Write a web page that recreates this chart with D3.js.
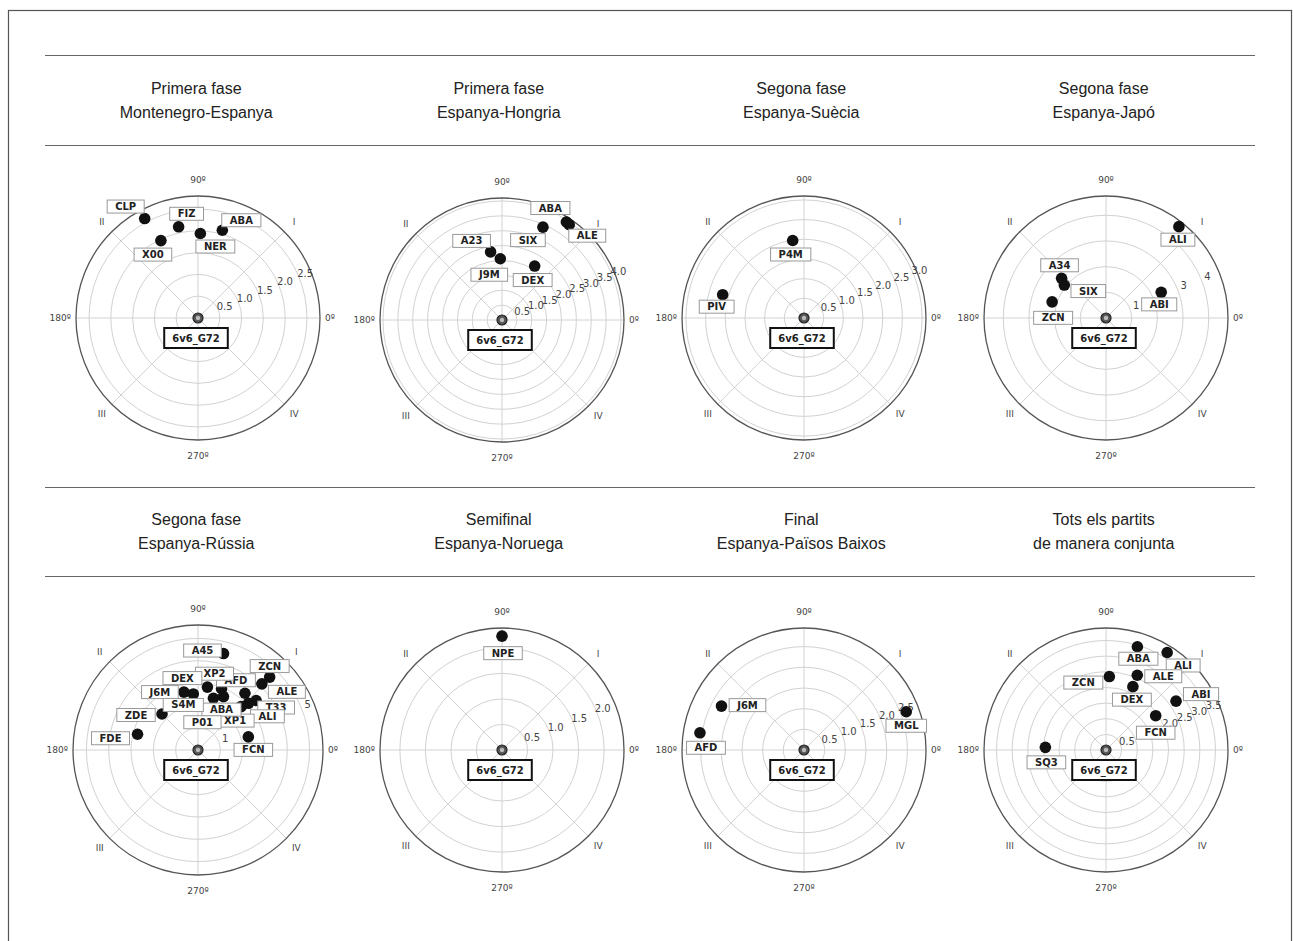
<!DOCTYPE html>
<html>
<head>
<meta charset="utf-8">
<script src="https://cdn.jsdelivr.net/npm/d3@7"></script>
<style>
  body { margin: 0; background: #fff; }
  svg { display: block; }
</style>
</head>
<body>
<svg id="chart" width="1293" height="941"></svg>
<script>
// ---- data: distance (r) and angle (degrees) per player ----
const titles = [
  ["Primera fase", "Montenegro-Espanya"],
  ["Primera fase", "Espanya-Hongria"],
  ["Segona fase", "Espanya-Suècia"],
  ["Segona fase", "Espanya-Japó"],
  ["Segona fase", "Espanya-Rússia"],
  ["Semifinal", "Espanya-Noruega"],
  ["Final", "Espanya-Països Baixos"],
  ["Tots els partits", "de manera conjunta"]
];

const m1Names = ["CLP", "FIZ", "X00", "NER", "ABA"];
const m1Dist  = [2.59, 2.14, 1.97, 1.94, 2.09];
const m1Angle = [118.2, 102, 115.6, 88.4, 74.5];

const m2Names = ["ABA", "ALE", "SIX", "A23", "J9M", "DEX"];
const m2Dist  = [3.94, 3.92, 3.41, 2.32, 2.06, 2.12];
const m2Angle = [56.7, 54.8, 66.2, 99.5, 91.6, 58.8];

const m3Names = ["P4M", "PIV"];
const m3Dist  = [1.99, 2.15];
const m3Angle = [98.3, 164];

const m4Names = ["ALI", "A34", "SIX", "ZCN", "ABI"];
const m4Dist  = [4.55, 2.32, 2.07, 2.19, 2.37];
const m4Angle = [51.4, 138.2, 141.7, 163.3, 24.9];

const m5Names = ["A45", "ZCN", "ALE", "T33", "ALI", "XP1", "AFD", "XP2", "DEX", "ABA", "P01", "J6M", "S4M", "ZDE", "FDE", "FCN"];
const m5Dist  = [4.47, 4.58, 4.12, 3.42, 3.08, 2.74, 3.3, 2.94, 2.85, 2.65, 2.42, 2.67, 2.52, 2.28, 2.8, 2.33];
const m5Angle = [75.2, 45.5, 46, 40.4, 42.8, 45.2, 50.4, 69, 81.5, 64.5, 73.4, 103.7, 94.8, 135, 165.4, 14.6];

const m6Names = ["NPE"];
const m6Dist  = [2.23];
const m6Angle = [90];

const m7Names = ["J6M", "AFD", "MGL"];
const m7Dist  = [2.26, 2.55, 2.64];
const m7Angle = [152, 170.6, 20.5];

const m8Names = ["ABA", "ALI", "ZCN", "ALE", "DEX", "ABI", "FCN", "SQ3"];
const m8Dist  = [3.45, 3.68, 2.35, 2.59, 2.2, 2.73, 1.93, 1.94];
const m8Angle = [73.1, 57.9, 87.4, 67.3, 67, 34.9, 34.6, 177.5];

// radial axis limits, grid rings and the ring labels that stay visible
const radialMax = [2.8, 4.1, 3.1, 4.75, 5.6, 2.39, 2.95, 3.9];
const radialTicks = [
  [0.5, 1, 1.5, 2, 2.5],
  [0.5, 1, 1.5, 2, 2.5, 3, 3.5, 4],
  [0.5, 1, 1.5, 2, 2.5, 3],
  [1, 2, 3, 4],
  [1, 2, 3, 4, 5],
  [0.5, 1, 1.5, 2],
  [0.5, 1, 1.5, 2, 2.5],
  [0.5, 1, 1.5, 2, 2.5, 3, 3.5]
];
const radialLabels = [
  [0.5, 1, 1.5, 2, 2.5],
  [0.5, 1, 1.5, 2, 2.5, 3, 3.5, 4],
  [0.5, 1, 1.5, 2, 2.5, 3],
  [1, 3, 4],
  [1, 5],
  [0.5, 1, 1.5, 2],
  [0.5, 1, 1.5, 2, 2.5],
  [0.5, 2, 2.5, 3, 3.5]
];
const tickFormats = [".1f", ".1f", ".1f", "d", "d", ".1f", ".1f", ".1f"];

const angleTicks  = [0, 45, 90, 135, 180, 225, 270, 315];
const angleLabels = ["0º", "I", "90º", "II", "180º", "III", "270º", "IV"];
const centerName = "6v6_G72";

// ---- layout (not data): where each annotation box sits relative to its dot ----
const m1Offsets = [[-19, -12], [8, -13], [-8, 14], [15, 13], [19, -10]];
const m2Offsets = [[-16, -14], [18, 11], [-15, 13], [-19, -11], [-11, 16], [-2, 14]];
const m3Offsets = [[-2, 14], [-6, 12]];
const m4Offsets = [[-1, 13], [-2, -13], [24, 6], [1, 16], [-2, 12]];
const m5Offsets = [[-21, -3], [0, -11], [25, 8], [20, 7], [19, 13], [-6, 14], [-9, -13], [-7, -15],
                   [-25, -9], [-2, 13], [-11, 24], [-24, 0], [-10, 11], [-26, 1], [-27, 4], [5, 13]];
const m6Offsets = [[1, 17]];
const m7Offsets = [[26, -1], [6, 15], [0, 14]];
const m8Offsets = [[1, 12], [16, 13], [-26, 6], [26, 1], [-1, 13], [25, -7], [0, 17], [1, 15]];

const centersX = [198, 502, 804, 1106];
const rowY = [318, 750];
const radius = [122, 122, 122, 122, 125, 122, 122, 122];

const svg = d3.select("#chart");
const fontPlain = "'Liberation Sans', Arial, Helvetica, sans-serif";
const fontPlot = "'DejaVu Sans', sans-serif";

// outer frame (its bottom edge lies below the picture)
svg.append("rect")
  .attr("x", 8.5).attr("y", 10.5)
  .attr("width", 1283).attr("height", 960)
  .attr("fill", "none")
  .attr("stroke", "#555")
  .attr("stroke-width", 1.2);

// column positions for titles
const colX = d3.scaleBand().domain(d3.range(4)).range([45, 1255]);

// horizontal rules
[55, 145, 487, 576].forEach(y => {
  svg.append("line")
    .attr("x1", 45).attr("x2", 1255)
    .attr("y1", y + 0.5).attr("y2", y + 0.5)
    .attr("stroke", "#666")
    .attr("stroke-width", 1);
});

// titles
titles.forEach((t, i) => {
  const row = Math.floor(i / 4), col = i % 4;
  const cx = colX(col) + colX.bandwidth() / 2;
  const base = row === 0 ? 94 : 525;
  t.forEach((line, k) => {
    svg.append("text")
      .attr("x", cx)
      .attr("y", base + k * 24)
      .attr("text-anchor", "middle")
      .style("font-family", fontPlain)
      .style("font-size", "16px")
      .style("fill", "#222")
      .text(line);
  });
});

const panels = [
  [m1Names, m1Dist, m1Angle, m1Offsets],
  [m2Names, m2Dist, m2Angle, m2Offsets],
  [m3Names, m3Dist, m3Angle, m3Offsets],
  [m4Names, m4Dist, m4Angle, m4Offsets],
  [m5Names, m5Dist, m5Angle, m5Offsets],
  [m6Names, m6Dist, m6Angle, m6Offsets],
  [m7Names, m7Dist, m7Angle, m7Offsets],
  [m8Names, m8Dist, m8Angle, m8Offsets]
].map((p, i) => ({
  points: p[0].map((n, k) => ({ name: n, r: p[1][k], theta: p[2][k], off: p[3][k] })),
  rmax: radialMax[i],
  ticks: radialTicks[i],
  labels: radialLabels[i],
  fmt: d3.format(tickFormats[i]),
  R: radius[i],
  cx: centersX[i % 4],
  cy: rowY[Math.floor(i / 4)] + (i === 1 ? 2 : 0)
}));

// angle scale: degrees counter-clockwise from east -> d3.pointRadial angle
const angle = d3.scaleLinear().domain([0, 360]).range([Math.PI / 2, Math.PI / 2 - 2 * Math.PI]);

function boxLabel(g, x, y, txt, opts) {
  const lg = g.append("g").attr("transform", `translate(${x},${y})`);
  const rect = lg.append("rect");
  const t = lg.append("text")
    .attr("text-anchor", "middle")
    .attr("dominant-baseline", "central")
    .style("font-family", fontPlot)
    .style("font-size", "10px")
    .style("font-weight", "bold")
    .style("fill", "#222")
    .text(txt);
  const w = t.node().getComputedTextLength() + opts.pad * 2;
  rect.attr("x", -w / 2).attr("y", -opts.h / 2)
    .attr("width", w).attr("height", opts.h)
    .attr("fill", "#fff")
    .attr("stroke", opts.stroke)
    .attr("stroke-width", opts.sw);
}

function drawPanel(p) {
  const g = svg.append("g").attr("transform", `translate(${p.cx},${p.cy})`);
  const r = d3.scaleLinear().domain([0, p.rmax]).range([0, p.R]);

  // grid rings
  g.selectAll("circle.ring")
    .data(p.ticks)
    .join("circle")
    .attr("class", "ring")
    .attr("r", d => r(d))
    .attr("fill", "none")
    .attr("stroke", "#d2d2d2")
    .attr("stroke-width", 1);

  // spokes
  g.selectAll("line.spoke")
    .data(angleTicks)
    .join("line")
    .attr("class", "spoke")
    .attr("x1", 0).attr("y1", 0)
    .attr("x2", d => d3.pointRadial(angle(d), p.R)[0])
    .attr("y2", d => d3.pointRadial(angle(d), p.R)[1])
    .attr("stroke", "#d2d2d2")
    .attr("stroke-width", 1);

  // outer spine
  g.append("circle")
    .attr("r", p.R)
    .attr("fill", "none")
    .attr("stroke", "#555")
    .attr("stroke-width", 1.3);

  // angle labels
  const pad = d => d % 90 === 0 ? (d % 180 === 0 ? 5 : 16) : 14;
  g.selectAll("text.alab")
    .data(angleTicks)
    .join("text")
    .attr("class", "alab")
    .attr("x", d => d3.pointRadial(angle(d), p.R + pad(d))[0])
    .attr("y", d => d3.pointRadial(angle(d), p.R + pad(d))[1])
    .attr("text-anchor", d => d === 0 ? "start" : d === 180 ? "end" : "middle")
    .attr("dominant-baseline", "central")
    .style("font-family", fontPlot)
    .style("font-size", "9px")
    .style("fill", "#444")
    .text((d, i) => angleLabels[i]);

  // radial tick labels at 22.5 degrees
  g.selectAll("text.rlab")
    .data(p.labels)
    .join("text")
    .attr("class", "rlab")
    .attr("x", d => d3.pointRadial(angle(22.5), r(d) + 7)[0])
    .attr("y", d => d3.pointRadial(angle(22.5), r(d) + 7)[1])
    .attr("text-anchor", "middle")
    .attr("dominant-baseline", "central")
    .style("font-family", fontPlot)
    .style("font-size", "10px")
    .style("fill", "#444")
    .text(d => p.fmt(d));

  // player dots
  g.selectAll("circle.dot")
    .data(p.points)
    .join("circle")
    .attr("class", "dot")
    .attr("cx", d => d3.pointRadial(angle(d.theta), r(d.r))[0])
    .attr("cy", d => d3.pointRadial(angle(d.theta), r(d.r))[1])
    .attr("r", 5.8)
    .attr("fill", "#111");

  // reference at the origin
  g.append("circle").attr("r", 5).attr("fill", "#555").attr("stroke", "#222").attr("stroke-width", 1.2);
  g.append("circle").attr("r", 2.2).attr("fill", "#bbb");

  // annotation boxes
  p.points.forEach(d => {
    const [x, y] = d3.pointRadial(angle(d.theta), r(d.r));
    boxLabel(g, x + d.off[0], y + d.off[1], d.name, { pad: 8, h: 13, stroke: "#999", sw: 1 });
  });
  boxLabel(g, -2, 20, centerName, { pad: 8, h: 20, stroke: "#111", sw: 2 });
}

panels.forEach(drawPanel);
</script>
</body>
</html>
